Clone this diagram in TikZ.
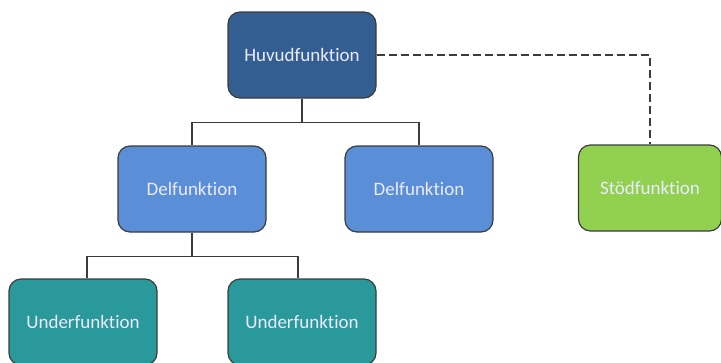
\documentclass[tikz,border=0pt]{standalone}
\usepackage{fontspec}
\setmainfont{Carlito}[RawFeature=-liga]
\usetikzlibrary{calc}

\definecolor{huvudblue}{HTML}{335E91}
\definecolor{delblue}{HTML}{5A8ED6}
\definecolor{stodgreen}{HTML}{92D050}
\definecolor{underteal}{HTML}{2A999C}
\definecolor{linegray}{HTML}{3C3C3C}

\tikzset{
    funkbox/.style={draw=linegray, line width=1.2pt, rounded corners=12pt,
        minimum width=148pt, minimum height=86pt, text=white!92!blue,
        font=\fontsize{19}{21}\selectfont, inner sep=0pt},
    tree/.style={draw=linegray, line width=1.2pt},
    stod/.style={draw=linegray, line width=1.5pt, dash pattern=on 8pt off 4pt}
}

\begin{document}
\begin{tikzpicture}[x=1pt, y=-1pt]
        \useasboundingbox (0,0) rectangle (721,362);
        % Boxarna
        \node[funkbox, fill=huvudblue] (huvud) at (302,55) {Huvudfunktion};
        \node[funkbox, fill=delblue] (del1) at (192,189) {Delfunktion};
        \node[funkbox, fill=delblue] (del2) at (419,189) {Delfunktion};
        \node[funkbox, fill=stodgreen, minimum width=143pt] (stod) at (650,188) {Stödfunktion};
        \node[funkbox, fill=underteal] (under1) at (83,322) {Underfunktion};
        \node[funkbox, fill=underteal] (under2) at (302,322) {Underfunktion};

        % Linjer
        \draw[tree] (huvud.south) -- ++(0,24) -| (del1.north);
        \draw[tree] (huvud.south) -- ++(0,24) -| (del2.north);
        \draw[stod] (huvud.east) -| (stod.north);
        \draw[tree] (del1.south) -- ++(0,24) -| ([xshift=4pt]under1.north);
        \draw[tree] (del1.south) -- ++(0,24) -| ([xshift=-4pt]under2.north);
\end{tikzpicture}
\end{document}
